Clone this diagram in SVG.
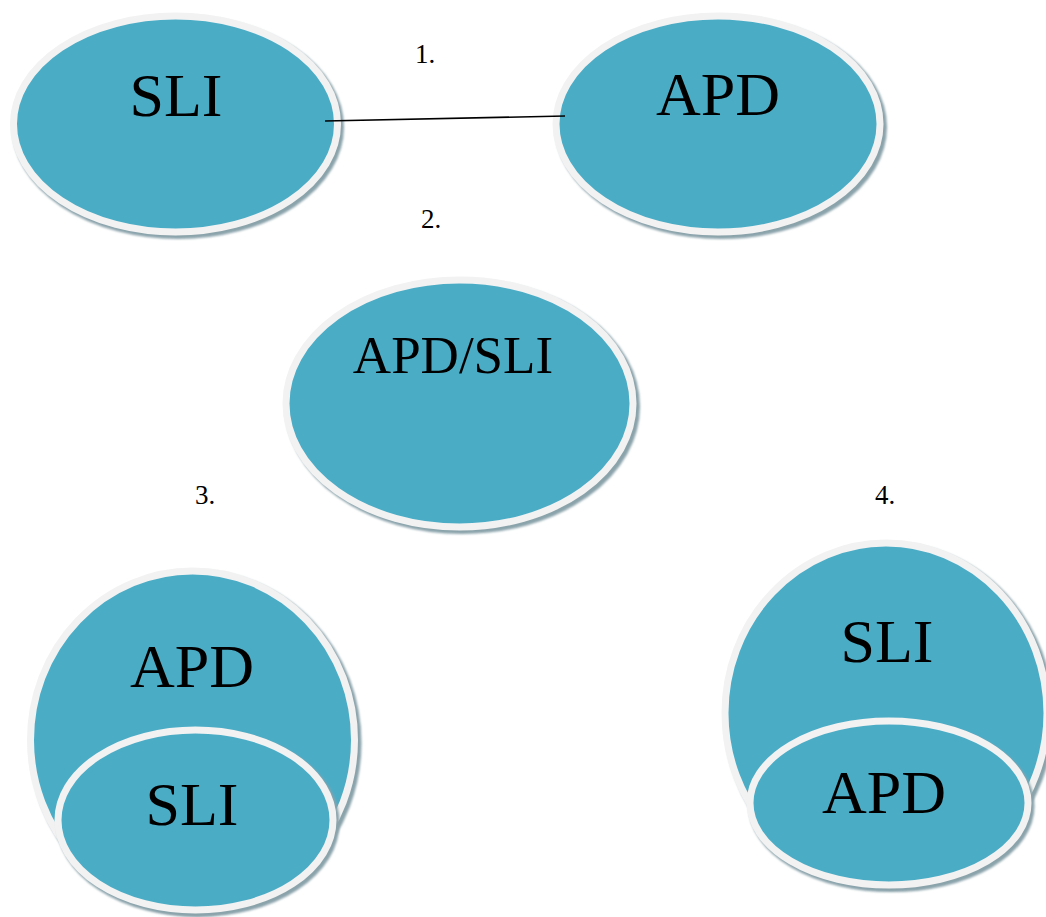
<svg xmlns="http://www.w3.org/2000/svg" width="1046" height="917" viewBox="0 0 1046 917">
<defs>
<filter id="sh" x="-10%" y="-10%" width="120%" height="120%"><feGaussianBlur stdDeviation="1.2"/></filter>
<style>
.shadow{fill:none;stroke:#8aa3ab;stroke-width:8;filter:url(#sh);}
.node{fill:#4bacc6;stroke:#f2f2f2;stroke-width:7;}
.lbl{font-size:62px;fill:#000;text-anchor:middle;}
.lbl.sm{font-size:53px;}
.num{font-size:27px;fill:#000;}
</style>
</defs>
<rect width="1046" height="917" fill="#fff"/>
<g id="node-sli-1">
<ellipse class="shadow" cx="178" cy="127" rx="162" ry="108"/>
<ellipse class="node" cx="175.5" cy="124" rx="162" ry="108"/>
<text class="lbl" font-family="Liberation Serif, Times New Roman, serif" x="176" y="116">SLI</text>
</g>
<g id="node-apd-1">
<ellipse class="shadow" cx="721" cy="127" rx="162" ry="108"/>
<ellipse class="node" cx="718" cy="124" rx="162" ry="108"/>
<text class="lbl" font-family="Liberation Serif, Times New Roman, serif" x="718" y="115">APD</text>
</g>
<g id="node-apd-sli">
<ellipse class="shadow" cx="462.5" cy="406.5" rx="173.5" ry="123.5"/>
<ellipse class="node" cx="459.5" cy="403.5" rx="173.5" ry="123.5"/>
<text class="lbl sm" font-family="Liberation Serif, Times New Roman, serif" x="453" y="373">APD/SLI</text>
</g>
<g id="node-apd-3">
<ellipse class="shadow" cx="195.5" cy="743" rx="162" ry="169"/>
<ellipse class="node" cx="192.5" cy="740" rx="162" ry="169"/>
<text class="lbl" font-family="Liberation Serif, Times New Roman, serif" x="192" y="687">APD</text>
</g>
<g id="node-sli-3">
<ellipse class="shadow" cx="198" cy="823" rx="137.5" ry="90"/>
<ellipse class="node" cx="195.5" cy="820" rx="137.5" ry="90"/>
<text class="lbl" font-family="Liberation Serif, Times New Roman, serif" x="192" y="825">SLI</text>
</g>
<g id="node-sli-4">
<ellipse class="shadow" cx="889" cy="716" rx="161" ry="170"/>
<ellipse class="node" cx="886" cy="713" rx="161" ry="170"/>
<text class="lbl" font-family="Liberation Serif, Times New Roman, serif" x="887" y="662">SLI</text>
</g>
<g id="node-apd-4">
<ellipse class="shadow" cx="891.5" cy="806" rx="139" ry="82"/>
<ellipse class="node" cx="889" cy="803" rx="139" ry="82"/>
<text class="lbl" font-family="Liberation Serif, Times New Roman, serif" x="884" y="813">APD</text>
</g>
<g id="connectors">
<line x1="325" y1="121" x2="565" y2="116" stroke="#000" stroke-width="1.6"/>
</g>
<g id="labels">
<text class="num" font-family="Liberation Serif, Times New Roman, serif" x="415" y="63">1.</text>
<text class="num" font-family="Liberation Serif, Times New Roman, serif" x="421" y="228">2.</text>
<text class="num" font-family="Liberation Serif, Times New Roman, serif" x="195" y="504">3.</text>
<text class="num" font-family="Liberation Serif, Times New Roman, serif" x="875" y="504">4.</text>
</g>
</svg>
